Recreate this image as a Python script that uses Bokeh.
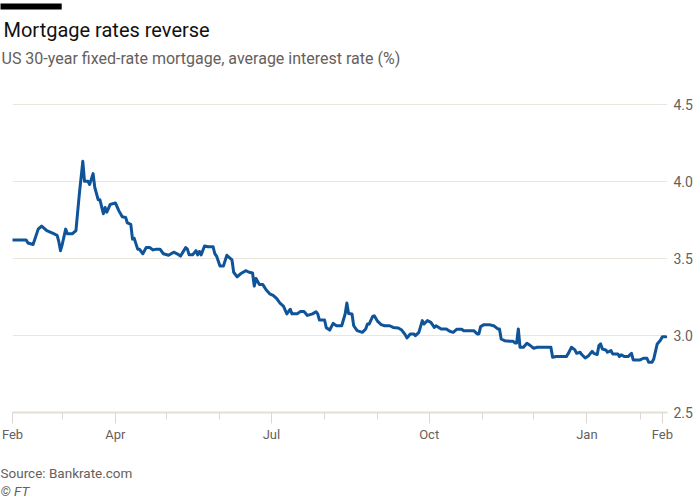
import pandas as pd
from bokeh.plotting import figure
from bokeh.models import (Title, FixedTicker, DatetimeTickFormatter,
                          Range1d, NumeralTickFormatter)
from bokeh.embed import file_html
from bokeh.resources import INLINE

# ---------------- data ----------------
dates = [
    "2020-02-01", "2020-02-09", "2020-02-10", "2020-02-13", "2020-02-16", "2020-02-18",
    "2020-02-21", "2020-02-23", "2020-02-25", "2020-02-27", "2020-02-28", "2020-02-29",
    "2020-03-01", "2020-03-03", "2020-03-04", "2020-03-07", "2020-03-09", "2020-03-11",
    "2020-03-13", "2020-03-14", "2020-03-16", "2020-03-17", "2020-03-19", "2020-03-20",
    "2020-03-22", "2020-03-23", "2020-03-25", "2020-03-26", "2020-03-27", "2020-03-29",
    "2020-04-01", "2020-04-03", "2020-04-05", "2020-04-07", "2020-04-08", "2020-04-10",
    "2020-04-11", "2020-04-12", "2020-04-14", "2020-04-15", "2020-04-17", "2020-04-19",
    "2020-04-21", "2020-04-23", "2020-04-25", "2020-04-27", "2020-04-29", "2020-05-02",
    "2020-05-05", "2020-05-07", "2020-05-09", "2020-05-12", "2020-05-13", "2020-05-14",
    "2020-05-16", "2020-05-18", "2020-05-19", "2020-05-20", "2020-05-21", "2020-05-23",
    "2020-05-25", "2020-05-28", "2020-05-29", "2020-05-30", "2020-06-01", "2020-06-03",
    "2020-06-05", "2020-06-08", "2020-06-09", "2020-06-11", "2020-06-13", "2020-06-16",
    "2020-06-18", "2020-06-20", "2020-06-21", "2020-06-22", "2020-06-24", "2020-06-26",
    "2020-06-28", "2020-06-30", "2020-07-02", "2020-07-04", "2020-07-06", "2020-07-08",
    "2020-07-10", "2020-07-12", "2020-07-13", "2020-07-16", "2020-07-18", "2020-07-20",
    "2020-07-22", "2020-07-25", "2020-07-27", "2020-07-28", "2020-07-29", "2020-08-01",
    "2020-08-02", "2020-08-04", "2020-08-06", "2020-08-08", "2020-08-11", "2020-08-13",
    "2020-08-14", "2020-08-15", "2020-08-17", "2020-08-18", "2020-08-20", "2020-08-23",
    "2020-08-25", "2020-08-26", "2020-08-27", "2020-08-29", "2020-08-30", "2020-09-01",
    "2020-09-03", "2020-09-05", "2020-09-08", "2020-09-10", "2020-09-13", "2020-09-15",
    "2020-09-17", "2020-09-18", "2020-09-20", "2020-09-22", "2020-09-23", "2020-09-25",
    "2020-09-27", "2020-09-28", "2020-09-30", "2020-10-02", "2020-10-04", "2020-10-05",
    "2020-10-08", "2020-10-11", "2020-10-13", "2020-10-15", "2020-10-17", "2020-10-20",
    "2020-10-21", "2020-10-27", "2020-10-29", "2020-10-30", "2020-10-31", "2020-11-02",
    "2020-11-05", "2020-11-08", "2020-11-10", "2020-11-11", "2020-11-12", "2020-11-14",
    "2020-11-17", "2020-11-19", "2020-11-20", "2020-11-21", "2020-11-22", "2020-11-23",
    "2020-11-25", "2020-11-27", "2020-11-29", "2020-12-01", "2020-12-03", "2020-12-11",
    "2020-12-12", "2020-12-14", "2020-12-20", "2020-12-21", "2020-12-23", "2020-12-25",
    "2020-12-26", "2020-12-28", "2020-12-29", "2020-12-31", "2021-01-02", "2021-01-04",
    "2021-01-05", "2021-01-07", "2021-01-08", "2021-01-09", "2021-01-10", "2021-01-12",
    "2021-01-13", "2021-01-15", "2021-01-16", "2021-01-19", "2021-01-20", "2021-01-21",
    "2021-01-23", "2021-01-25", "2021-01-27", "2021-01-28", "2021-02-01", "2021-02-03",
    "2021-02-05", "2021-02-06", "2021-02-08", "2021-02-09", "2021-02-11", "2021-02-13",
    "2021-02-14", "2021-02-16",
]
rates = [
    3.62, 3.62, 3.60, 3.59, 3.69, 3.71,
    3.68, 3.67, 3.66, 3.65, 3.61, 3.55,
    3.59, 3.69, 3.66, 3.66, 3.68, 3.92,
    4.13, 4.00, 4.00, 3.98, 4.05, 3.96,
    3.88, 3.88, 3.79, 3.83, 3.80, 3.85,
    3.86, 3.81, 3.77, 3.765, 3.73, 3.72,
    3.625, 3.63, 3.56, 3.56, 3.53, 3.57,
    3.57, 3.555, 3.56, 3.56, 3.53, 3.52,
    3.54, 3.53, 3.515, 3.57, 3.56, 3.523,
    3.523, 3.55, 3.523, 3.545, 3.523, 3.58,
    3.575, 3.575, 3.53, 3.515, 3.45, 3.45,
    3.52, 3.49, 3.41, 3.38, 3.40, 3.42,
    3.41, 3.405, 3.32, 3.37, 3.33, 3.33,
    3.295, 3.27, 3.26, 3.24, 3.21, 3.19,
    3.14, 3.17, 3.14, 3.14, 3.156, 3.156,
    3.13, 3.14, 3.154, 3.14, 3.10, 3.10,
    3.05, 3.035, 3.078, 3.063, 3.063, 3.139,
    3.21, 3.143, 3.139, 3.063, 3.031, 3.02,
    3.042, 3.074, 3.074, 3.122, 3.128, 3.091,
    3.07, 3.063, 3.063, 3.052, 3.048, 3.035,
    3.005, 2.984, 3.01, 3.01, 2.999, 3.02,
    3.096, 3.074, 3.096, 3.085, 3.052, 3.063,
    3.042, 3.042, 3.027, 3.02, 3.04, 3.04,
    3.031, 3.031, 3.01, 3.01, 3.057, 3.07,
    3.07, 3.061, 3.042, 3.042, 2.977, 2.966,
    2.962, 2.962, 2.951, 2.951, 3.042, 2.923,
    2.923, 2.949, 2.934, 2.917, 2.923, 2.923,
    2.858, 2.863, 2.863, 2.88, 2.923, 2.906,
    2.884, 2.891, 2.876, 2.854, 2.869, 2.897,
    2.884, 2.876, 2.934, 2.945, 2.912, 2.906,
    2.891, 2.902, 2.88, 2.88, 2.863, 2.874,
    2.863, 2.863, 2.884, 2.841, 2.841, 2.852,
    2.852, 2.826, 2.826, 2.848, 2.945, 2.971,
    2.992, 2.992,
]

major_tick_dates = ["2020-02-01", "2020-04-01", "2020-07-01", "2020-10-01",
                    "2021-01-01", "2021-02-14"]
minor_tick_dates = ["2020-02-01", "2020-03-01", "2020-04-01", "2020-05-01", "2020-06-01",
                    "2020-07-01", "2020-08-01", "2020-09-01", "2020-10-01", "2020-11-01",
                    "2020-12-01", "2021-01-01", "2021-02-01", "2021-02-14"]
y_ticks = [2.5, 3.0, 3.5, 4.0, 4.5]

title_text = "Mortgage rates reverse"
subtitle_text = "US 30-year fixed-rate mortgage, average interest rate (%)"
source_text = "Source: Bankrate.com"
credit_text = "\u00a9 FT"

# ---------------- styling ----------------
FONT = "Roboto"
GREY = "#66605c"
LINE = "#0f5499"
GRID = "#ebe5df"


def ms(d):
    return pd.Timestamp(d).timestamp() * 1000.0


p = figure(width=700, height=500, x_axis_type="datetime", y_axis_location="right",
           output_backend="svg", toolbar_location=None, title=None,
           x_range=Range1d(ms("2020-02-01"), ms("2021-02-17")),
           y_range=Range1d(2.5, 4.505),
           min_border_left=12, min_border_right=33, min_border_top=0, min_border_bottom=0)
p.background_fill_color = "white"
p.border_fill_color = "white"
p.outline_line_color = None

p.line(x=pd.to_datetime(dates), y=rates, line_color=LINE, line_width=3,
       line_join="round", line_cap="round")

# x axis
xa = p.xaxis[0]
xa.ticker = FixedTicker(ticks=[ms(d) for d in major_tick_dates],
                        minor_ticks=[ms(d) for d in minor_tick_dates])
xa.formatter = DatetimeTickFormatter(milliseconds="%b", seconds="%b", minsec="%b",
                                     minutes="%b", hourmin="%b", hours="%b",
                                     days="%b", months="%b", years="%b")
xa.axis_line_color = "#e4ded8"
xa.axis_line_width = 2
xa.major_tick_line_color = "#ddd7d1"
xa.minor_tick_line_color = "#ddd7d1"
xa.major_tick_out = 11
xa.major_tick_in = 0
xa.minor_tick_out = 7
xa.minor_tick_in = 0
xa.major_label_standoff = 3
xa.major_label_text_font = FONT
xa.major_label_text_font_size = "13px"
xa.major_label_text_color = GREY

# y axis (right)
ya = p.yaxis[0]
ya.ticker = FixedTicker(ticks=y_ticks)
ya.formatter = NumeralTickFormatter(format="0.0")
ya.axis_line_color = None
ya.major_tick_line_color = None
ya.minor_tick_line_color = None
ya.major_tick_out = 0
ya.major_tick_in = 0
ya.major_label_standoff = 6
ya.major_label_text_font = FONT
ya.major_label_text_font_size = "14px"
ya.major_label_text_color = GREY

p.xgrid.visible = False
p.ygrid.grid_line_color = GRID
p.ygrid.grid_line_width = 1

# header: panels added first sit closest to the plot
p.add_layout(Title(text=" ", text_font=FONT, text_font_size="2px",
                   align="left", standoff=31.5, vertical_align="bottom"), "above")
p.add_layout(Title(text=subtitle_text, text_font=FONT, text_font_size="16px",
                   text_font_style="normal", text_color=GREY, align="left",
                   offset=-11, standoff=0, vertical_align="bottom"), "above")
p.add_layout(Title(text=title_text, text_font=FONT, text_font_size="20px",
                   text_font_style="normal", text_color="#111111", align="left",
                   offset=-9, standoff=10, vertical_align="bottom"), "above")
p.add_layout(Title(text="\u2003" * 12, text_font=FONT, text_font_size="5px",
                   background_fill_color="black", background_fill_alpha=1.0,
                   align="left", offset=-12, standoff=2, vertical_align="bottom"), "above")

# footer: panels added later sit farther from the plot
p.add_layout(Title(text=" ", text_font=FONT, text_font_size="2px",
                   align="left", standoff=16, vertical_align="top"), "below")
p.add_layout(Title(text=source_text, text_font=FONT, text_font_size="13.5px",
                   text_font_style="normal", text_color=GREY, align="left",
                   offset=-12, standoff=0, vertical_align="top"), "below")
p.add_layout(Title(text=credit_text, text_font=FONT, text_font_size="13.5px",
                   text_font_style="italic", text_color=GREY, align="left",
                   offset=-12, standoff=0, vertical_align="top"), "below")

open("out.html", "w").write(file_html(p, INLINE))
